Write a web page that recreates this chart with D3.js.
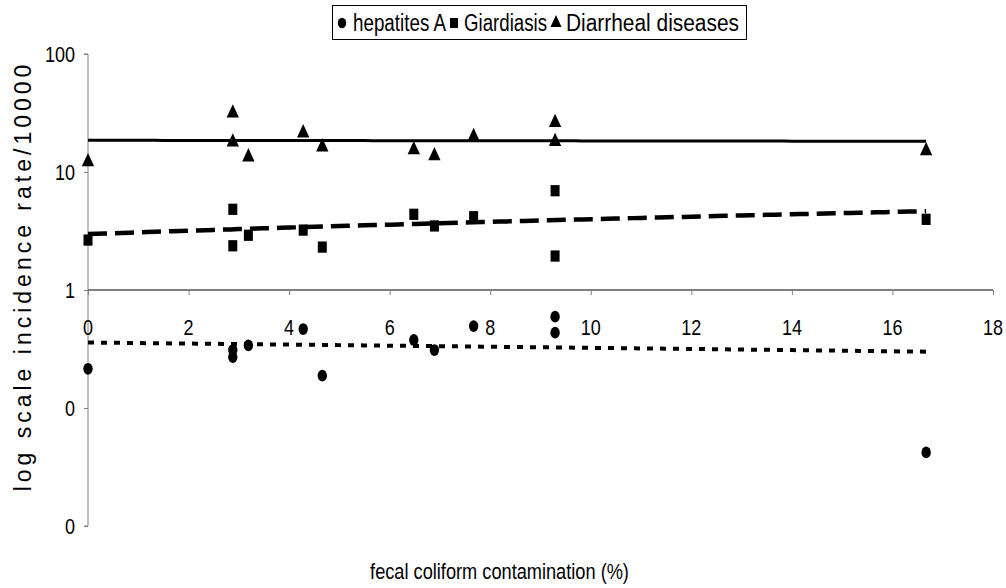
<!DOCTYPE html>
<html>
<head>
<meta charset="utf-8">
<script src="https://cdn.jsdelivr.net/npm/d3@7"></script>
<style>
  html, body { margin: 0; padding: 0; background: #ffffff; }
  svg { display: block; }
  text { font-family: "Liberation Sans", Arial, sans-serif; fill: #000; }
</style>
</head>
<body>
<svg id="chart" width="1006" height="588"></svg>
<script>
// Fecal coliform contamination (%) for each sampled area
const contamination = [0, 2.88, 2.88, 3.19, 4.28, 4.66, 6.48, 6.89, 7.67, 9.29, 9.29, 16.67];

// Incidence rate per 10000 for each disease
const hepatitisA = [0.215, 0.31, 0.27, 0.34, 0.467, 0.188, 0.377, 0.31, 0.495, 0.594, 0.435, 0.042];
const giardiasis = [2.65, 4.83, 2.37, 2.91, 3.22, 2.31, 4.38, 3.49, 4.18, 6.94, 1.94, 3.97];
const diarrheal  = [12.2, 31.6, 17.9, 13.4, 21.4, 16.3, 15.4, 13.7, 19.9, 26.2, 18.1, 15.1];

const seriesNames = ["hepatites A", "Giardiasis", "Diarrheal diseases"];

const xTickValues = [0, 2, 4, 6, 8, 10, 12, 14, 16, 18];
const yTickValues = [100, 10, 1, 0.1, 0.01];
const yTickLabels = ["100", "10", "1", "0", "0"];

const svg = d3.select("#chart");
const VS = 1.25; // glyphs are drawn tall and narrow

const x = d3.scaleLinear().domain([0, 18]).range([88, 993]);
const y = d3.scaleLog().domain([0.01, 100]).range([526, 54]);

function label(g, px, py, str, size, anchor) {
  return g.append("text")
    .attr("transform", `translate(${px},${py}) scale(1,${VS})`)
    .attr("font-size", size)
    .attr("text-anchor", anchor || "start")
    .text(str);
}

// Y axis (log scale) at x = 0
const yAxis = d3.axisLeft(y).tickValues(yTickValues).tickSize(4).tickFormat("");
const gy = svg.append("g").attr("transform", `translate(${x(0)},0)`).call(yAxis);
gy.select(".domain").attr("stroke", "#808080").attr("d", `M-4,${y(100)}H0V${y(0.01)}H-4`);
gy.selectAll(".tick line").attr("stroke", "#808080");
yTickValues.forEach((v, i) => label(svg, 75, y(v) + 8, yTickLabels[i], 18, "end"));

// X axis crossing at incidence 1
const xAxis = d3.axisBottom(x).tickValues(xTickValues).tickSize(5).tickFormat("");
const gx = svg.append("g").attr("transform", `translate(0,${y(1)})`).call(xAxis);
gx.select(".domain").attr("stroke", "#000").attr("d", `M${x(0)},0H${x(18)}`);
gx.selectAll(".tick line").attr("stroke", "#808080");
xTickValues.forEach(v => label(svg, x(v), y(1) + 45, String(v), 18, "middle"));

// Axis titles
label(svg, (x(0) + x(18)) / 2 - 41, 579, "fecal coliform contamination (%)", 18.2, "middle");
svg.append("text")
  .attr("transform", "translate(31,276) rotate(-90)")
  .attr("font-size", 23)
  .attr("letter-spacing", 4)
  .attr("text-anchor", "middle")
  .text("log scale incidence rate/10000");

// Linear least-squares trend through each series, drawn on the log axis
function linearFit(xs, ys) {
  const mx = d3.mean(xs), my = d3.mean(ys);
  let sxy = 0, sxx = 0;
  xs.forEach((v, i) => { sxy += (v - mx) * (ys[i] - my); sxx += (v - mx) * (v - mx); });
  const b = sxy / sxx, a = my - b * mx;
  return t => a + b * t;
}

const series = [
  { name: seriesNames[0], values: hepatitisA, symbol: d3.symbolCircle, size: Math.PI * 4.7 * 4.7, dash: "6,7", width: 4 },
  { name: seriesNames[1], values: giardiasis, symbol: d3.symbolSquare, size: 81, dash: "19,8", width: 4.5 },
  { name: seriesNames[2], values: diarrheal, symbol: d3.symbolTriangle, size: 66, dash: null, width: 3 }
];

const xMax = d3.max(contamination);
const samples = d3.range(0, 101).map(i => i / 100 * xMax);
const line = d3.line().x(d => x(d[0])).y(d => y(d[1]));

series.forEach(s => {
  const f = linearFit(contamination, s.values);
  svg.append("path")
    .attr("d", line(samples.map(t => [t, f(t)])))
    .attr("fill", "none")
    .attr("stroke", "#000")
    .attr("stroke-width", s.width)
    .attr("stroke-dasharray", s.dash);
});

series.forEach(s => {
  const sym = d3.symbol().type(s.symbol).size(s.size);
  svg.append("g").selectAll("path")
    .data(s.values)
    .join("path")
    .attr("d", sym)
    .attr("fill", "#000")
    .attr("transform", (d, i) => `translate(${x(contamination[i])},${y(d)}) scale(1,${VS})`);
});

// Legend
const lg = svg.append("g");
lg.append("rect").attr("x", 332.5).attr("y", 5.5).attr("width", 414).attr("height", 34)
  .attr("fill", "#fff").attr("stroke", "#000").attr("stroke-width", 1);
const legendItems = [
  { mx: 342, tx: 353, len: 93 },
  { mx: 454, tx: 464, len: 83 },
  { mx: 556, tx: 566, len: 173 }
];
series.forEach((s, i) => {
  lg.append("path")
    .attr("d", d3.symbol().type(s.symbol).size(s.size * 0.8)())
    .attr("transform", `translate(${legendItems[i].mx},23) scale(1,${VS})`)
    .attr("fill", "#000");
  label(lg, legendItems[i].tx, 30.5, s.name, 18.5, "start")
    .attr("textLength", legendItems[i].len)
    .attr("lengthAdjust", "spacingAndGlyphs");
});
</script>
</body>
</html>
